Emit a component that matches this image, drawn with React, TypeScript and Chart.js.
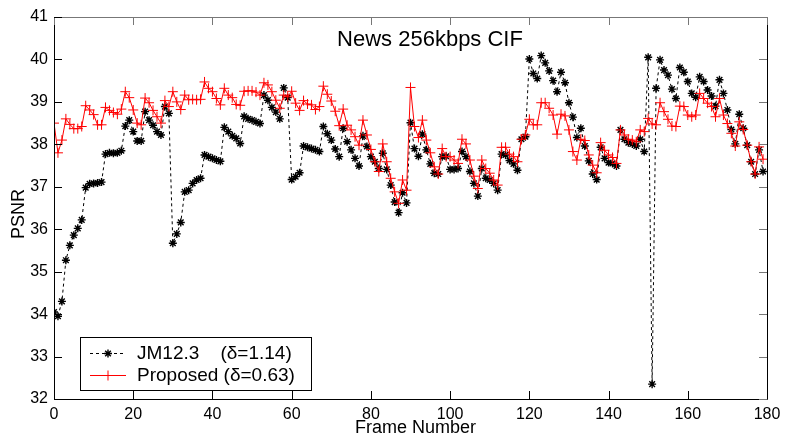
import React, { useEffect, useRef } from "react";
import { Chart, registerables } from "chart.js";
import { drawPoint } from "chart.js/helpers";

Chart.register(...registerables);

const chartTitle = "News 256kbps CIF";
const xAxisTitle = "Frame Number";
const yAxisTitle = "PSNR";
const seriesNames = ["JM12.3    (\u03B4=1.14)", "Proposed (\u03B4=0.63)"];

const xTicks = [0, 20, 40, 60, 80, 100, 120, 140, 160, 180];
const yTicks = [32, 33, 34, 35, 36, 37, 38, 39, 40, 41];

const jm123 = [
  34.05, 33.95, 34.3, 35.27, 35.62, 35.86, 36.02, 36.22, 36.98, 37.07,
  37.08, 37.09, 37.11, 37.77, 37.8, 37.79, 37.8, 37.85, 38.43, 38.57,
  38.3, 38.08, 38.08, 38.77, 38.57, 38.45, 38.3, 38.22, 38.89, 38.73,
  35.67, 35.89, 36.16, 36.88, 36.92, 37.08, 37.16, 37.2, 37.75, 37.71,
  37.67, 37.63, 37.6, 38.4, 38.3, 38.2, 38.14, 38.02, 38.66, 38.6,
  38.57, 38.53, 38.49, 39.16, 39.04, 38.87, 38.76, 38.6, 39.33, 39.1,
  37.17, 37.24, 37.33, 37.96, 37.93, 37.9, 37.87, 37.83, 38.42, 38.25,
  38.1, 37.89, 37.71, 38.38, 38.06, 37.87, 37.67, 37.49, 38.2, 37.95,
  37.71, 37.59, 37.43, 37.79, 37.41, 37.04, 36.64, 36.39, 36.86, 36.62,
  38.51, 37.9, 37.72, 38.24, 37.87, 37.54, 37.32, 37.3, 37.71, 37.72,
  37.41, 37.41, 37.43, 37.83, 37.71, 37.36, 37.08, 36.78, 37.43, 37.2,
  37.16, 37.08, 36.92, 37.77, 37.75, 37.62, 37.54, 37.39, 38.12, 38.18,
  40.01, 39.67, 39.55, 40.09, 39.92, 39.73, 39.5, 39.24, 39.7, 39.45,
  38.98, 38.64, 38.16, 38.38, 37.96, 37.61, 37.3, 37.17, 37.93, 37.67,
  37.57, 37.55, 37.49, 38.34, 38.12, 38.04, 38.01, 37.96, 38.12, 37.83,
  40.05, 32.35, 39.32, 39.99, 39.75, 39.63, 39.3, 39.08, 39.81, 39.7,
  39.48, 39.2, 39.11, 39.59, 39.48, 39.28, 39.14, 38.9, 39.52, 39.2,
  38.81, 38.35, 38.01, 38.71, 38.38, 37.98, 37.59, 37.3, 37.87, 37.36,
];

const proposed = [
  38.5, 37.8, 38.1, 38.6, 38.47, 38.37, 38.37, 38.42, 38.91, 38.81,
  38.7, 38.46, 38.46, 38.87, 38.8, 38.75, 38.71, 38.83, 39.24, 39.1,
  38.81, 38.5, 38.46, 39.09, 38.98, 38.8, 38.65, 38.5, 39.03, 38.89,
  39.24, 39.0, 38.82, 39.16, 39.05, 39.06, 39.05, 39.06, 39.47, 39.32,
  39.24, 39.08, 38.93, 39.32, 39.16, 39.1, 38.94, 38.92, 39.25, 39.26,
  39.26, 39.23, 39.16, 39.45, 39.4, 39.24, 39.04, 38.85, 39.16, 39.12,
  39.25, 38.97, 38.8, 39.03, 38.95, 38.93, 38.82, 38.89, 39.37, 39.18,
  39.02, 38.78, 38.44, 38.83, 38.45, 38.34, 38.18, 37.98, 38.57, 38.22,
  37.88, 37.59, 37.36, 38.01, 37.59, 37.2, 36.88, 36.61, 37.16, 36.92,
  39.34, 38.42, 38.16, 38.57, 38.1, 37.8, 37.47, 37.3, 37.9, 37.71,
  37.71, 37.63, 37.55, 38.12, 38.01, 37.63, 37.25, 36.96, 37.63, 37.43,
  37.32, 37.16, 37.04, 37.93, 37.93, 37.77, 37.71, 37.59, 38.12, 38.22,
  38.59, 38.46, 38.46, 38.98, 38.98, 38.85, 38.69, 38.24, 38.71, 38.67,
  38.34, 37.83, 37.63, 38.12, 38.09, 37.75, 37.51, 37.33, 38.04, 37.86,
  37.75, 37.69, 37.55, 38.34, 38.22, 38.12, 38.1, 38.06, 38.34, 38.3,
  38.61, 38.48, 38.46, 38.98, 38.77, 38.59, 38.43, 38.42, 38.9, 38.89,
  38.69, 38.65, 38.69, 39.2, 39.08, 38.97, 38.89, 38.65, 39.08, 38.69,
  38.49, 38.26, 37.96, 38.53, 38.35, 37.98, 37.59, 37.3, 37.94, 37.65,
];

const frames = jm123.map((_, i) => i);

const FONT = "'Liberation Sans', Arial, Helvetica, sans-serif";

const decorPlugin = {
  id: "matlabDecor",
  afterDatasetsDraw(chart: any) {
    const ctx = chart.ctx as CanvasRenderingContext2D;
    const { left, right, top, bottom } = chart.chartArea;
    const xs = chart.scales.x;
    const ys = chart.scales.y;
    ctx.save();
    // box
    ctx.lineWidth = 1;
    ctx.strokeStyle = "#000";
    ctx.beginPath();
    ctx.moveTo(left + 0.5, top + 0.5);
    ctx.lineTo(left + 0.5, bottom + 0.5);
    ctx.lineTo(right + 0.5, bottom + 0.5);
    ctx.lineTo(right + 0.5, top + 0.5);
    ctx.stroke();
    ctx.strokeStyle = "#777";
    ctx.beginPath();
    ctx.moveTo(left + 0.5, top + 0.5);
    ctx.lineTo(right + 0.5, top + 0.5);
    ctx.stroke();
    // inward ticks
    const tl = 8;
    xTicks.forEach((v) => {
      const px = Math.round(xs.getPixelForValue(v)) + 0.5;
      ctx.strokeStyle = "#000";
      ctx.beginPath();
      ctx.moveTo(px, bottom);
      ctx.lineTo(px, bottom - tl);
      ctx.stroke();
      ctx.strokeStyle = "#777";
      ctx.beginPath();
      ctx.moveTo(px, top);
      ctx.lineTo(px, top + tl);
      ctx.stroke();
    });
    yTicks.forEach((v) => {
      const py = Math.round(ys.getPixelForValue(v)) + 0.5;
      ctx.strokeStyle = "#000";
      ctx.beginPath();
      ctx.moveTo(left, py);
      ctx.lineTo(left + tl, py);
      ctx.stroke();
      ctx.strokeStyle = "#777";
      ctx.beginPath();
      ctx.moveTo(right, py);
      ctx.lineTo(right - tl, py);
      ctx.stroke();
    });

    // title inside axes
    ctx.fillStyle = "#000";
    ctx.font = `22px ${FONT}`;
    ctx.textAlign = "center";
    ctx.textBaseline = "middle";
    ctx.fillText(chartTitle, left + 376, top + 23);

    // axis titles
    ctx.font = `18px ${FONT}`;
    ctx.fillText(xAxisTitle, (left + right) / 2 + 5, bottom + 29);
    ctx.save();
    ctx.translate(19, (top + bottom) / 2 + 6);
    ctx.rotate(-Math.PI / 2);
    ctx.fillText(yAxisTitle, 0, 0);
    ctx.restore();

    // legend
    const lx = left + 26;
    const ly = bottom - 62;
    const lw = 231;
    const lh = 53;
    ctx.fillStyle = "#fff";
    ctx.fillRect(lx, ly, lw, lh);
    ctx.strokeStyle = "#000";
    ctx.lineWidth = 1;
    ctx.strokeRect(lx + 0.5, ly + 0.5, lw, lh);
    const rows = [ly + 16, ly + 38];
    chart.data.datasets.forEach((ds: any, i: number) => {
      const ry = rows[i] + 0.5;
      ctx.save();
      ctx.strokeStyle = ds.borderColor;
      ctx.lineWidth = 1;
      ctx.setLineDash(ds.borderDash || []);
      ctx.beginPath();
      ctx.moveTo(lx + 10, ry);
      ctx.lineTo(lx + 46, ry);
      ctx.stroke();
      ctx.setLineDash([]);
      ctx.restore();
      ctx.save();
      ctx.strokeStyle = ds.pointBorderColor;
      ctx.fillStyle = ds.pointBorderColor;
      ctx.lineWidth = ds.pointBorderWidth;
      drawPoint(ctx, { pointStyle: ds.pointStyle, radius: ds.pointRadius, borderWidth: ds.pointBorderWidth, rotation: 0 } as any, lx + 28, ry);
      ctx.restore();
      ctx.fillStyle = "#000";
      ctx.font = `19px ${FONT}`;
      ctx.textAlign = "left";
      ctx.textBaseline = "middle";
      ctx.fillText(seriesNames[i], lx + 57, rows[i] + 1);
    });
    ctx.restore();
  },
};

export default function App() {
  const ref = useRef<HTMLCanvasElement | null>(null);
  useEffect(() => {
    if (!ref.current) return;
    const chart = new Chart(ref.current, {
      type: "line",
      data: {
        datasets: [
          {
            label: seriesNames[0],
            data: frames.map((f, i) => ({ x: f, y: jm123[i] })),
            borderColor: "#000",
            borderWidth: 1,
            borderDash: [3, 3],
            pointStyle: "star",
            pointRadius: 4,
            pointBorderColor: "#000",
            pointBackgroundColor: "#000",
            pointBorderWidth: 1.4,
            tension: 0,
            order: 2,
          },
          {
            label: seriesNames[1],
            data: frames.map((f, i) => ({ x: f, y: proposed[i] })),
            borderColor: "#ff0000",
            borderWidth: 1,
            pointStyle: "cross",
            pointRadius: 5,
            pointBorderColor: "#ff0000",
            pointBackgroundColor: "#ff0000",
            pointBorderWidth: 1,
            tension: 0,
            order: 1,
          },
        ],
      },
      options: {
        animation: false,
        responsive: false,
        devicePixelRatio: 1,
        layout: { padding: { top: 17, right: 20, left: 0, bottom: 0 } },
        plugins: {
          legend: { display: false },
          tooltip: { enabled: false },
          title: { display: false },
        },
        scales: {
          x: {
            type: "linear",
            min: 0,
            max: 180,
            afterBuildTicks: (s: any) => {
              s.ticks = xTicks.map((v) => ({ value: v }));
            },
            ticks: {
              font: { family: FONT, size: 16 },
              color: "#000",
              padding: 6,
              maxRotation: 0,
            },
            grid: { display: false, drawTicks: false },
            border: { display: false },
            afterFit: (s: any) => {
              s.height = 40;
            },
          },
          y: {
            type: "linear",
            min: 32,
            max: 41,
            afterBuildTicks: (s: any) => {
              s.ticks = yTicks.map((v) => ({ value: v }));
            },
            ticks: {
              font: { family: FONT, size: 16 },
              color: "#000",
              padding: 6,
            },
            grid: { display: false, drawTicks: false },
            border: { display: false },
            afterFit: (s: any) => {
              s.width = 54;
            },
          },
        },
      },
      plugins: [decorPlugin],
    } as any);
    return () => chart.destroy();
  }, []);
  return (
    <div style={{ position: "absolute", left: 0, top: 0, width: 787, height: 439, background: "#fff" }}>
      <canvas ref={ref} width={787} height={439} style={{ display: "block" }} />
    </div>
  );
}
